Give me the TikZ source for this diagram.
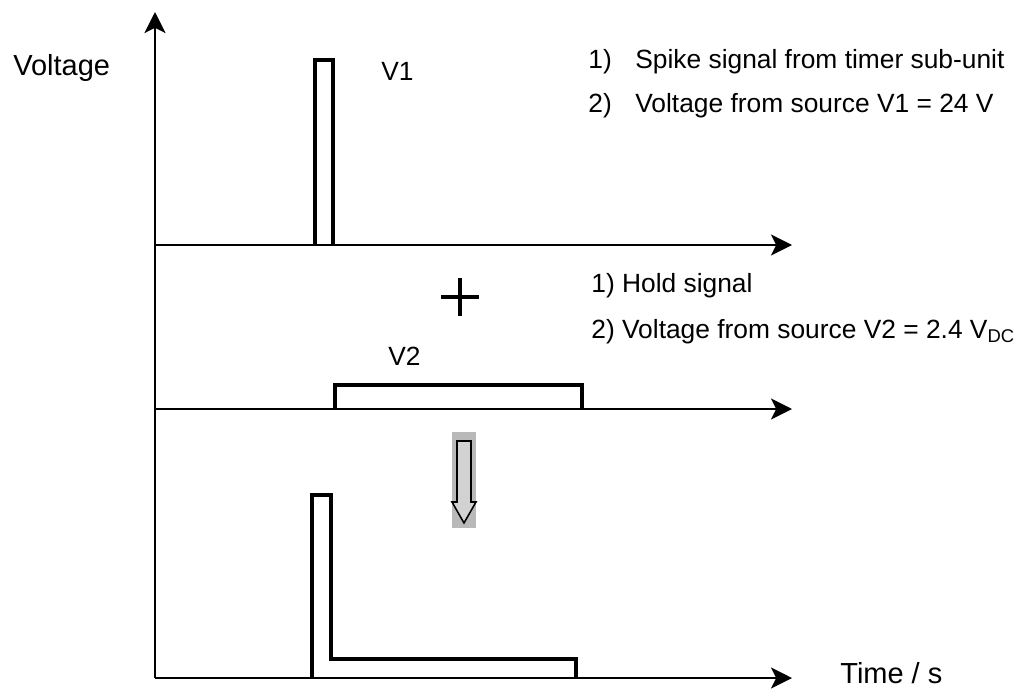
\documentclass[tikz,border=0pt]{standalone}
\usepackage{fontspec}
\setmainfont{Liberation Sans}
\usetikzlibrary{arrows.meta}
\tikzset{
  axis/.style={
    line width = 1.1pt,
    -{Stealth[length=12pt,width=12pt,inset=3pt]}
  },
  pulse/.style={
    line width = 2.8pt,
    line join = miter
  },
  txt/.style={
    anchor = base west,
    inner sep = 0pt,
    font = \fontsize{15}{18}\selectfont
  },
  big/.style={
    anchor = base west,
    inner sep = 0pt,
    font = \fontsize{16.5}{20}\selectfont
  },
  downarrow/.style={
    draw,
    line width = 0.9pt,
    fill = gray!35
  }
}

\begin{document}
\begin{tikzpicture}[x=0.02cm,y=-0.02cm]
\useasboundingbox (0,0) rectangle (1023,690);
      \draw[axis] (155,678) -- (155,12);
		  \foreach \y in {245,409,678}{
		    \draw[axis] (155,\y) -- (792,\y); }
% signals
\draw[pulse] (315,245) -- (315,60) -- (333,60) -- (333,245);
\draw[pulse] (335,409) -- (335,385) -- (582,385) -- (582,409);
\draw[pulse] (312,678) -- (312,495) -- (331,495) -- (331,659) -- (576,659) -- (576,678);
% plus and arrow
\draw[line width=2.4pt] (441,297) -- (479,297) (460,278) -- (460,316);
\fill[gray!55] (452,432) rectangle (476,528);
\draw[downarrow] (457,441) -- (471,441) -- (471,502) -- (476,502) -- (464,523)
      -- (452,502) -- (457,502) -- cycle;
% labels
          \node[big] (ylab) at (13,75) {Voltage};
          \node[big] (xlab) at (840,683) {Time / s};
          \node[txt] (vone) at (381,80) {V1};
          \node[txt] (vtwo) at (388,365) {V2};
          \node[txt] (spa) at (588,68) {1)};
          \node[txt] (spb) at (635,68) {Spike signal from timer sub-unit};
          \node[txt] (sva) at (588,112) {2)};
          \node[txt] (svb) at (635,112) {Voltage from source V1 = 24 V};
          \node[txt] (hold) at (591,292) {1) Hold signal};
          \node[txt] (hvolt) at (591,338) {2) Voltage from source V2 = 2.4 V\textsubscript{DC}};
\end{tikzpicture}
\end{document}
